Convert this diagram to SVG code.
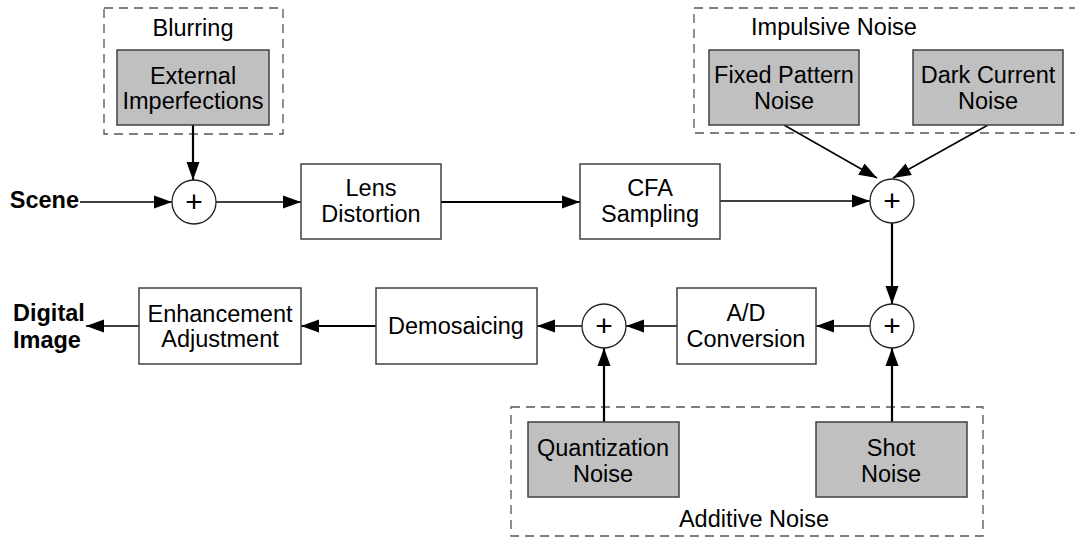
<svg xmlns="http://www.w3.org/2000/svg" width="1075" height="538" viewBox="0 0 1075 538">
<style>
text{font-family:"Liberation Sans",Arial,sans-serif;font-size:23.5px;fill:#000;text-anchor:middle}
.b{font-weight:bold;font-size:23.5px}
.p{font-size:30px}
.box{fill:#fff;stroke:#404040;stroke-width:1.5}
.gray{fill:#c0c0c0;stroke:#404040;stroke-width:1.5}
.grp{fill:none;stroke:#555;stroke-width:1.3;stroke-dasharray:9 6}
.sum{fill:#fff;stroke:#222;stroke-width:1.3}
.c{stroke:#000;fill:none;marker-end:url(#arr)}
.t1{stroke-width:1.5}
.t2{stroke-width:2.2}
</style>
<defs>
<marker id="arr" markerWidth="18" markerHeight="14" refX="18" refY="7" orient="auto" markerUnits="userSpaceOnUse">
<path d="M0,0.5 L18,7 L0,13.5 z" fill="#000"/>
</marker>
</defs>

<g id="group-blurring">
<rect class="grp" x="104" y="8" width="179" height="126"/>
<text x="193" y="36">Blurring</text>
</g>
<g id="group-impulsive">
<rect class="grp" x="694" y="8" width="400" height="125"/>
<text x="834" y="35">Impulsive Noise</text>
</g>
<g id="group-additive">
<rect class="grp" x="511" y="407" width="472" height="129"/>
<text x="754" y="527">Additive Noise</text>
</g>

<g id="connectors">
<line class="c t1" x1="80" y1="202" x2="172" y2="202"/>
<line class="c t2" x1="193" y1="125" x2="193" y2="180"/>
<line class="c t1" x1="216" y1="202" x2="301" y2="202"/>
<line class="c t2" x1="441" y1="202" x2="580" y2="202"/>
<line class="c t1" x1="720" y1="201" x2="870" y2="201"/>
<line class="c t1" x1="784" y1="125" x2="877" y2="178"/>
<line class="c t1" x1="988" y1="125" x2="893" y2="178"/>
<line class="c t2" x1="892" y1="223" x2="892" y2="304"/>
<line class="c t1" x1="870" y1="326" x2="816" y2="326"/>
<line class="c t1" x1="677" y1="326" x2="626" y2="326"/>
<line class="c t1" x1="582" y1="326" x2="537" y2="326"/>
<line class="c t2" x1="376" y1="326" x2="301" y2="326"/>
<line class="c t1" x1="139" y1="326" x2="86" y2="326"/>
<line class="c t2" x1="604" y1="422" x2="604" y2="348"/>
<line class="c t2" x1="892" y1="422" x2="892" y2="348"/>
</g>

<g id="scene"><text class="b" x="79" y="208" style="text-anchor:end">Scene</text></g>
<g id="digital-image"><text class="b" x="13" y="321" style="text-anchor:start">Digital</text><text class="b" x="13" y="348" style="text-anchor:start">Image</text></g>

<g id="external-imperfections">
<rect class="gray" x="117" y="50" width="152" height="75"/>
<text x="193" y="84">External</text><text x="193" y="109">Imperfections</text>
</g>
<g id="fixed-pattern-noise">
<rect class="gray" x="709" y="50" width="150" height="75"/>
<text x="784" y="83">Fixed Pattern</text><text x="784" y="109">Noise</text>
</g>
<g id="dark-current-noise">
<rect class="gray" x="913" y="50" width="150" height="75"/>
<text x="988" y="83">Dark Current</text><text x="988" y="109">Noise</text>
</g>
<g id="lens-distortion">
<rect class="box" x="301" y="164" width="140" height="75"/>
<text x="371" y="196">Lens</text><text x="371" y="222">Distortion</text>
</g>
<g id="cfa-sampling">
<rect class="box" x="580" y="164" width="140" height="75"/>
<text x="650" y="196">CFA</text><text x="650" y="222">Sampling</text>
</g>
<g id="ad-conversion">
<rect class="box" x="677" y="288" width="139" height="76"/>
<text x="746" y="321">A/D</text><text x="746" y="347">Conversion</text>
</g>
<g id="demosaicing">
<rect class="box" x="376" y="288" width="161" height="76"/>
<text x="456" y="334">Demosaicing</text>
</g>
<g id="enhancement-adjustment">
<rect class="box" x="139" y="288" width="162" height="76"/>
<text x="220" y="322">Enhancement</text><text x="220" y="347">Adjustment</text>
</g>
<g id="quantization-noise">
<rect class="gray" x="528" y="422" width="151" height="75"/>
<text x="603" y="456">Quantization</text><text x="603" y="482">Noise</text>
</g>
<g id="shot-noise">
<rect class="gray" x="816" y="422" width="151" height="75"/>
<text x="891" y="456">Shot</text><text x="891" y="482">Noise</text>
</g>

<g id="sum1"><circle class="sum" cx="194" cy="202" r="22"/><text class="p" x="194" y="212">+</text></g>
<g id="sum2"><circle class="sum" cx="892" cy="201" r="22"/><text class="p" x="892" y="211">+</text></g>
<g id="sum3"><circle class="sum" cx="892" cy="326" r="22"/><text class="p" x="892" y="336">+</text></g>
<g id="sum4"><circle class="sum" cx="604" cy="326" r="22"/><text class="p" x="604" y="336">+</text></g>
</svg>
